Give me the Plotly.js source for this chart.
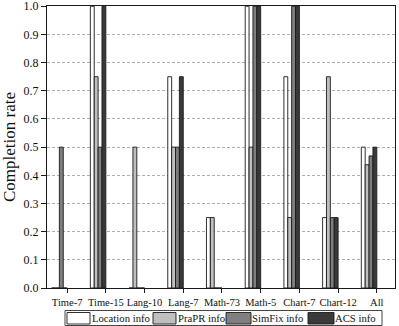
<!DOCTYPE html>
<html>
<head>
<meta charset="utf-8">
<script src="https://cdn.plot.ly/plotly-3.0.1.min.js"></script>
<style>html,body{margin:0;padding:0;background:#fff;}#chart{width:399px;height:326px;}</style>
</head>
<body>
<div id="chart"></div>
<script>
const categories = ["Time-7","Time-15","Lang-10","Lang-7","Math-73","Math-5","Chart-7","Chart-12","All"];
const locationInfo = [0, 1.0, 0, 0.75, 0.25, 1.0, 0.75, 0.25, 0.5];
const praprInfo    = [0, 0.75, 0.5, 0.5, 0.25, 0.5, 0.25, 0.75, 0.4375];
const simfixInfo   = [0.5, 0.5, 0, 0.5, 0, 1.0, 1.0, 0.25, 0.46875];
const acsInfo      = [0, 1.0, 0, 0.75, 0, 1.0, 1.0, 0.25, 0.5];
const seriesNames  = ["Location info","PraPR info","SimFix info","ACS info"];
const yTicks = [0,0.1,0.2,0.3,0.4,0.5,0.6,0.7,0.8,0.9,1.0];

const series = [locationInfo, praprInfo, simfixInfo, acsInfo];
const colors = ["#ffffff","#bfbfbf","#7f7f7f","#3a3a3a"];
const offsets = [-0.4,-0.3,-0.2,-0.1];
const serif = 'Liberation Serif';

const W = 399, H = 326, ML = 47, MR = 4, MT = 6, MB = 38;
const PW = W - ML - MR, PH = H - MT - MB;
const px = v => (v - ML) / PW;
const py = v => (H - MB - v) / PH;

const traces = series.map((vals,i)=>({
  type:'bar', x:categories, y:vals, name:seriesNames[i],
  offset:offsets[i], width:0.1,
  marker:{color:colors[i], line:{color:'#1a1a1a', width:0.9}},
  hoverinfo:'skip', showlegend:false
}));

// custom legend (box, swatches, labels)
const swatchX = [[67,90],[153,176],[226,251],[308,334]];
const textX = [89.5, 175.5, 249.5, 332.5];
const shapes = [{
  type:'rect', xref:'paper', yref:'paper',
  x0:px(65), x1:px(382), y0:py(325.5), y1:py(310.5),
  line:{color:'#444', width:1}, fillcolor:'rgba(0,0,0,0)'
}];
const annotations = [];
seriesNames.forEach((name,i)=>{
  shapes.push({
    type:'rect', xref:'paper', yref:'paper',
    x0:px(swatchX[i][0]), x1:px(swatchX[i][1]), y0:py(324), y1:py(312.5),
    line:{color:'#1a1a1a', width:0.9}, fillcolor:colors[i]
  });
  annotations.push({
    xref:'paper', yref:'paper', x:px(textX[i]), y:py(318.2),
    xanchor:'left', yanchor:'middle', showarrow:false, text:name,
    font:{family:serif, size:10.7, color:'#111'}
  });
});

const layout = {
  width:W, height:H,
  margin:{l:ML, r:MR, t:MT, b:MB},
  paper_bgcolor:'#fff', plot_bgcolor:'#fff',
  barmode:'group',
  showlegend:false,
  font:{family:serif, color:'#111', size:11},
  xaxis:{
    type:'category', range:[-0.52,8.47],
    showgrid:false, zeroline:false,
    showline:true, linecolor:'#1a1a1a', linewidth:1.2, mirror:true,
    ticks:'outside', ticklen:4, tickcolor:'#1a1a1a', tickangle:0,
    tickfont:{family:serif, size:10.5, color:'#111'},
    fixedrange:true
  },
  yaxis:{
    range:[0,1.001], tickvals:yTicks, tickformat:'.1f',
    ticklabeloverflow:'allow',
    showgrid:true, gridcolor:'#b0b0b0', griddash:'3px,2px', gridwidth:1,
    zeroline:false,
    showline:true, linecolor:'#1a1a1a', linewidth:1.2, mirror:true,
    ticks:'outside', ticklen:5, tickcolor:'#1a1a1a',
    tickfont:{family:serif, size:12, color:'#111'},
    title:{text:'Completion rate', font:{family:serif, size:17, color:'#111'}, standoff:4}
  },
  shapes:shapes,
  annotations:annotations
};
Plotly.newPlot('chart', traces, layout, {displayModeBar:false, staticPlot:true});
</script>
</body>
</html>
